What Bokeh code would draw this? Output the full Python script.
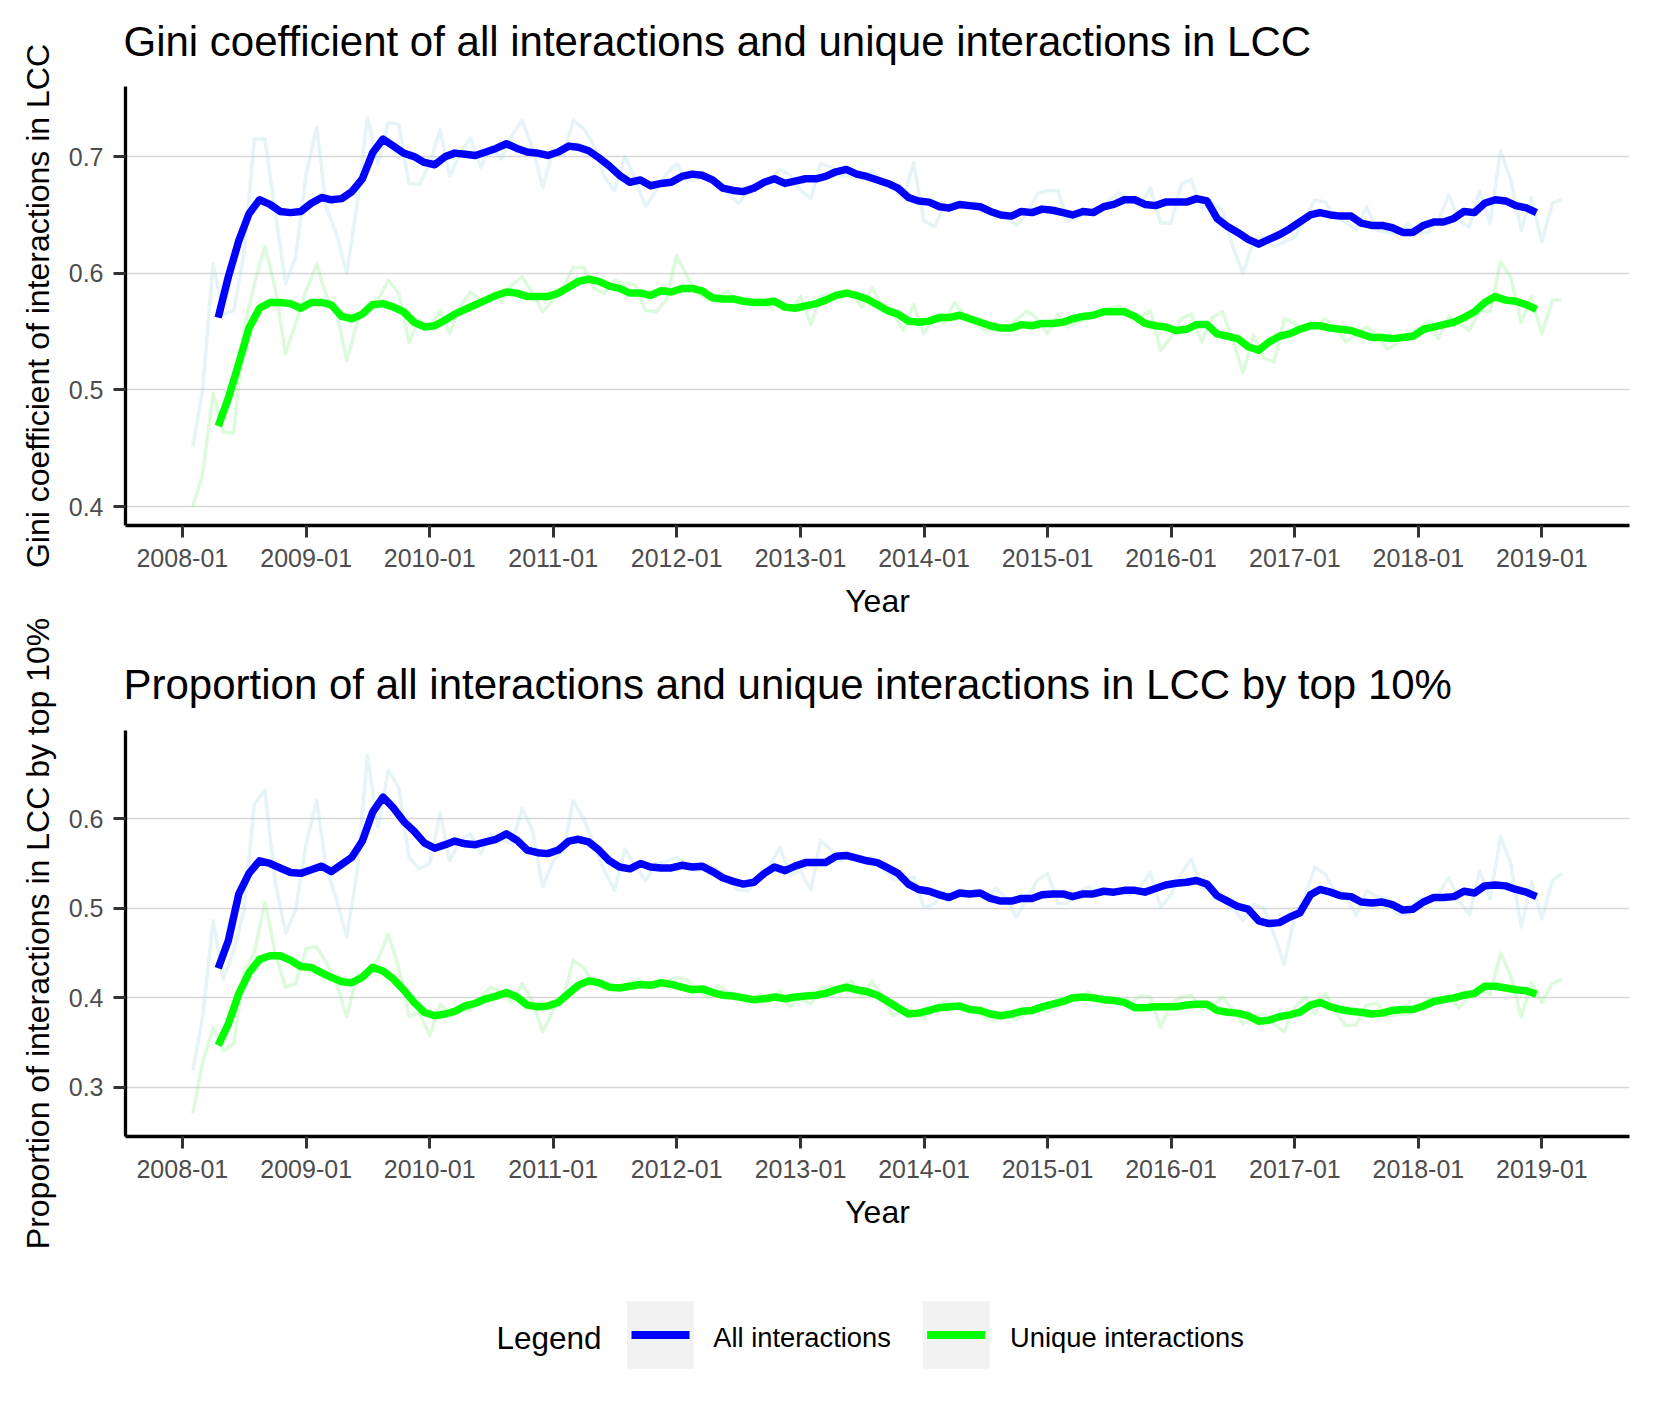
import pandas as pd
from bokeh.plotting import figure
from bokeh.models import Range1d, FixedTicker, DatetimeTickFormatter
from bokeh.layouts import column
from bokeh.embed import file_html
from bokeh.resources import INLINE
from bokeh.core.properties import value

FONT = "Liberation Sans"

# ---------------- data ----------------
tick_labels = ["2008-01", "2009-01", "2010-01", "2011-01", "2012-01", "2013-01",
               "2014-01", "2015-01", "2016-01", "2017-01", "2018-01", "2019-01"]
gini_ticks = [0.4, 0.5, 0.6, 0.7]
top10_ticks = [0.3, 0.4, 0.5, 0.6]

raw_first_month = "2008-02-01"      # monthly raw values start
smooth_first_month = "2008-04-01"   # smoothed values, placed mid-month

gini_all_raw = [
    0.451, 0.500, 0.608, 0.565, 0.568, 0.617, 0.715, 0.715, 0.654, 0.591, 0.614, 0.685,
    0.725, 0.657, 0.633, 0.600, 0.660, 0.734, 0.694, 0.729, 0.728, 0.677, 0.676, 0.694,
    0.723, 0.683, 0.703, 0.716, 0.691, 0.708, 0.698, 0.718, 0.731, 0.708, 0.674, 0.705,
    0.701, 0.731, 0.724, 0.710, 0.683, 0.671, 0.700, 0.681, 0.657, 0.671, 0.685, 0.694,
    0.679, 0.681, 0.681, 0.675, 0.668, 0.660, 0.671, 0.674, 0.681, 0.689, 0.684, 0.671,
    0.664, 0.694, 0.691, 0.683, 0.684, 0.681, 0.688, 0.677, 0.673, 0.664, 0.695, 0.645,
    0.640, 0.657, 0.661, 0.658, 0.660, 0.656, 0.649, 0.648, 0.641, 0.651, 0.668, 0.671,
    0.671, 0.645, 0.648, 0.653, 0.654, 0.662, 0.669, 0.663, 0.657, 0.673, 0.643, 0.643,
    0.677, 0.680, 0.656, 0.660, 0.654, 0.623, 0.600, 0.628, 0.631, 0.623, 0.627, 0.631,
    0.647, 0.663, 0.661, 0.648, 0.644, 0.637, 0.657, 0.637, 0.635, 0.634, 0.643, 0.634,
    0.635, 0.645, 0.667, 0.645, 0.640, 0.671, 0.643, 0.705, 0.680, 0.637, 0.665, 0.627,
    0.660, 0.664]

gini_unique_raw = [
    0.400, 0.428, 0.497, 0.464, 0.463, 0.551, 0.591, 0.623, 0.588, 0.531, 0.557, 0.585,
    0.608, 0.581, 0.568, 0.525, 0.558, 0.574, 0.577, 0.594, 0.583, 0.541, 0.560, 0.553,
    0.568, 0.548, 0.571, 0.584, 0.577, 0.580, 0.576, 0.590, 0.597, 0.583, 0.567, 0.577,
    0.588, 0.605, 0.605, 0.587, 0.583, 0.594, 0.591, 0.590, 0.568, 0.567, 0.577, 0.615,
    0.597, 0.584, 0.577, 0.580, 0.585, 0.575, 0.574, 0.577, 0.571, 0.575, 0.568, 0.580,
    0.556, 0.580, 0.583, 0.583, 0.582, 0.571, 0.587, 0.571, 0.566, 0.551, 0.573, 0.548,
    0.565, 0.557, 0.575, 0.564, 0.557, 0.551, 0.551, 0.554, 0.560, 0.568, 0.561, 0.548,
    0.565, 0.554, 0.558, 0.561, 0.568, 0.570, 0.572, 0.563, 0.563, 0.568, 0.534, 0.545,
    0.561, 0.565, 0.541, 0.562, 0.567, 0.543, 0.515, 0.547, 0.527, 0.524, 0.561, 0.557,
    0.551, 0.553, 0.561, 0.554, 0.541, 0.548, 0.554, 0.547, 0.535, 0.540, 0.549, 0.553,
    0.559, 0.544, 0.563, 0.557, 0.551, 0.568, 0.567, 0.610, 0.597, 0.558, 0.580, 0.548,
    0.577, 0.577]

gini_all_smooth = [
    0.562, 0.597, 0.628, 0.651, 0.663, 0.659, 0.653, 0.652, 0.653, 0.660, 0.665, 0.663,
    0.664, 0.670, 0.681, 0.703, 0.715, 0.709, 0.703, 0.700, 0.695, 0.693, 0.700, 0.703,
    0.702, 0.701, 0.704, 0.707, 0.711, 0.707, 0.704, 0.703, 0.701, 0.704, 0.709, 0.708,
    0.705, 0.699, 0.692, 0.684, 0.678, 0.680, 0.675, 0.677, 0.678, 0.683, 0.685, 0.684,
    0.680, 0.673, 0.671, 0.670, 0.673, 0.678, 0.681, 0.677, 0.679, 0.681, 0.681, 0.683,
    0.687, 0.689, 0.685, 0.683, 0.680, 0.677, 0.673, 0.665, 0.662, 0.661, 0.657, 0.656,
    0.659, 0.658, 0.657, 0.653, 0.650, 0.649, 0.653, 0.652, 0.655, 0.654, 0.652, 0.650,
    0.653, 0.652, 0.657, 0.659, 0.663, 0.663, 0.659, 0.658, 0.661, 0.661, 0.661, 0.664,
    0.662, 0.647, 0.640, 0.635, 0.629, 0.625, 0.629, 0.633, 0.638, 0.644, 0.650, 0.652,
    0.650, 0.649, 0.649, 0.643, 0.641, 0.641, 0.639, 0.635, 0.635, 0.641, 0.644, 0.644,
    0.647, 0.653, 0.652, 0.660, 0.663, 0.662, 0.658, 0.656, 0.652]

gini_unique_smooth = [
    0.469, 0.493, 0.523, 0.553, 0.570, 0.575, 0.575, 0.574, 0.570, 0.575, 0.575, 0.573,
    0.563, 0.561, 0.565, 0.573, 0.574, 0.571, 0.567, 0.558, 0.554, 0.555, 0.560, 0.565,
    0.569, 0.573, 0.577, 0.581, 0.584, 0.583, 0.580, 0.580, 0.580, 0.583, 0.588, 0.593,
    0.595, 0.593, 0.589, 0.587, 0.583, 0.583, 0.581, 0.585, 0.584, 0.587, 0.587, 0.585,
    0.579, 0.578, 0.578, 0.576, 0.575, 0.575, 0.576, 0.571, 0.570, 0.572, 0.574, 0.577,
    0.581, 0.583, 0.581, 0.578, 0.573, 0.568, 0.565, 0.559, 0.558, 0.559, 0.562, 0.562,
    0.564, 0.561, 0.558, 0.555, 0.553, 0.553, 0.556, 0.555, 0.557, 0.557, 0.558, 0.561,
    0.563, 0.564, 0.567, 0.567, 0.567, 0.563, 0.557, 0.555, 0.554, 0.551, 0.552, 0.556,
    0.556, 0.548, 0.546, 0.544, 0.537, 0.534, 0.541, 0.546, 0.548, 0.552, 0.555, 0.555,
    0.553, 0.552, 0.551, 0.548, 0.545, 0.545, 0.544, 0.545, 0.546, 0.552, 0.554, 0.556,
    0.558, 0.562, 0.567, 0.575, 0.580, 0.577, 0.576, 0.573, 0.569]

top10_all_raw = [
    0.319, 0.379, 0.486, 0.421, 0.453, 0.498, 0.616, 0.632, 0.531, 0.472, 0.498, 0.572,
    0.620, 0.546, 0.509, 0.468, 0.542, 0.671, 0.591, 0.654, 0.635, 0.557, 0.544, 0.550,
    0.606, 0.553, 0.576, 0.583, 0.561, 0.583, 0.576, 0.572, 0.611, 0.587, 0.524, 0.553,
    0.565, 0.620, 0.600, 0.572, 0.542, 0.520, 0.566, 0.547, 0.531, 0.550, 0.552, 0.557,
    0.548, 0.542, 0.548, 0.543, 0.533, 0.520, 0.520, 0.535, 0.547, 0.568, 0.537, 0.542,
    0.520, 0.576, 0.565, 0.553, 0.561, 0.553, 0.557, 0.545, 0.533, 0.533, 0.535, 0.501,
    0.505, 0.518, 0.513, 0.514, 0.520, 0.510, 0.522, 0.511, 0.490, 0.511, 0.531, 0.539,
    0.505, 0.506, 0.518, 0.524, 0.516, 0.520, 0.519, 0.515, 0.523, 0.540, 0.501, 0.515,
    0.539, 0.555, 0.522, 0.524, 0.509, 0.501, 0.486, 0.504, 0.501, 0.470, 0.438, 0.492,
    0.514, 0.546, 0.538, 0.518, 0.513, 0.492, 0.520, 0.513, 0.511, 0.493, 0.494, 0.511,
    0.507, 0.516, 0.534, 0.509, 0.493, 0.542, 0.511, 0.580, 0.550, 0.479, 0.530, 0.488,
    0.531, 0.539]

top10_unique_raw = [
    0.271, 0.328, 0.367, 0.341, 0.349, 0.427, 0.451, 0.507, 0.451, 0.412, 0.416, 0.455,
    0.457, 0.440, 0.416, 0.379, 0.426, 0.427, 0.443, 0.471, 0.434, 0.379, 0.384, 0.358,
    0.393, 0.382, 0.387, 0.386, 0.401, 0.412, 0.406, 0.395, 0.416, 0.397, 0.362, 0.386,
    0.401, 0.442, 0.434, 0.416, 0.410, 0.408, 0.415, 0.420, 0.416, 0.414, 0.418, 0.423,
    0.420, 0.409, 0.401, 0.414, 0.406, 0.405, 0.393, 0.404, 0.395, 0.408, 0.390, 0.399,
    0.393, 0.411, 0.412, 0.410, 0.419, 0.401, 0.419, 0.401, 0.380, 0.386, 0.386, 0.377,
    0.390, 0.396, 0.389, 0.386, 0.387, 0.378, 0.375, 0.380, 0.376, 0.383, 0.388, 0.385,
    0.390, 0.399, 0.398, 0.406, 0.401, 0.399, 0.393, 0.393, 0.402, 0.401, 0.367, 0.394,
    0.401, 0.403, 0.387, 0.390, 0.401, 0.387, 0.371, 0.379, 0.382, 0.371, 0.362, 0.390,
    0.401, 0.382, 0.405, 0.384, 0.369, 0.370, 0.392, 0.394, 0.379, 0.382, 0.382, 0.388,
    0.399, 0.396, 0.402, 0.389, 0.402, 0.410, 0.404, 0.450, 0.425, 0.379, 0.417, 0.395,
    0.416, 0.421]

top10_all_smooth = [
    0.433, 0.464, 0.516, 0.539, 0.553, 0.550, 0.545, 0.540, 0.539, 0.543, 0.547, 0.541,
    0.549, 0.557, 0.575, 0.607, 0.624, 0.612, 0.597, 0.586, 0.573, 0.567, 0.571, 0.575,
    0.572, 0.571, 0.574, 0.577, 0.583, 0.576, 0.565, 0.562, 0.561, 0.565, 0.575, 0.577,
    0.574, 0.565, 0.553, 0.546, 0.544, 0.550, 0.546, 0.545, 0.545, 0.548, 0.546, 0.547,
    0.541, 0.534, 0.530, 0.527, 0.529, 0.539, 0.546, 0.542, 0.547, 0.551, 0.551, 0.551,
    0.558, 0.559, 0.556, 0.553, 0.551, 0.545, 0.539, 0.527, 0.521, 0.519, 0.515, 0.512,
    0.517, 0.516, 0.517, 0.511, 0.508, 0.508, 0.511, 0.511, 0.515, 0.516, 0.516, 0.513,
    0.516, 0.516, 0.519, 0.518, 0.520, 0.520, 0.518, 0.522, 0.526, 0.528, 0.529, 0.531,
    0.527, 0.514, 0.508, 0.502, 0.499, 0.486, 0.483, 0.484, 0.490, 0.495, 0.515, 0.521,
    0.518, 0.514, 0.513, 0.507, 0.506, 0.507, 0.504, 0.498, 0.499, 0.507, 0.512, 0.512,
    0.513, 0.519, 0.517, 0.525, 0.526, 0.525, 0.521, 0.518, 0.513]

top10_unique_smooth = [
    0.347, 0.371, 0.405, 0.428, 0.443, 0.447, 0.447, 0.442, 0.435, 0.434, 0.428, 0.423,
    0.418, 0.417, 0.423, 0.434, 0.430, 0.421, 0.409, 0.395, 0.384, 0.380, 0.382, 0.385,
    0.391, 0.394, 0.399, 0.402, 0.406, 0.401, 0.392, 0.390, 0.391, 0.395, 0.405, 0.414,
    0.419, 0.417, 0.412, 0.411, 0.413, 0.415, 0.414, 0.417, 0.415, 0.412, 0.409, 0.410,
    0.406, 0.403, 0.402, 0.400, 0.398, 0.399, 0.401, 0.399, 0.401, 0.402, 0.403, 0.405,
    0.409, 0.412, 0.409, 0.407, 0.403, 0.396, 0.389, 0.382, 0.383, 0.386, 0.389, 0.390,
    0.391, 0.387, 0.386, 0.382, 0.380, 0.382, 0.385, 0.386, 0.390, 0.393, 0.396, 0.400,
    0.401, 0.400, 0.398, 0.397, 0.395, 0.389, 0.389, 0.390, 0.390, 0.390, 0.392, 0.393,
    0.393, 0.386, 0.384, 0.383, 0.380, 0.374, 0.375, 0.379, 0.381, 0.384, 0.392, 0.395,
    0.390, 0.387, 0.385, 0.384, 0.382, 0.383, 0.386, 0.387, 0.387, 0.391, 0.396, 0.398,
    0.400, 0.403, 0.405, 0.413, 0.413, 0.411, 0.409, 0.408, 0.404]

legend_title = "Legend"
legend_labels = ["All interactions", "Unique interactions"]
strong_colors = ["#0000FF", "#00FF00"]
faint_colors = ["lightblue", "lightgreen"]

# ---------------- helpers ----------------
raw_dates = pd.date_range(raw_first_month, periods=len(gini_all_raw), freq="MS")
smooth_dates = pd.date_range(smooth_first_month, periods=len(gini_all_smooth), freq="MS") + pd.Timedelta(days=15)
tick_ms = [pd.Timestamp(t + "-01").timestamp() * 1000.0 for t in tick_labels]

X_START = pd.Timestamp("2007-07-17")
X_END = pd.Timestamp("2019-09-17")
FIG_W = 1638
MB_LEFT = 125
MB_RIGHT = 9


def make_plot(title, ylabel, yrange, yticks, height, mb_top, mb_bottom, title_standoff,
              all_raw, uniq_raw, all_smooth, uniq_smooth):
    p = figure(width=FIG_W, height=height, x_axis_type="datetime",
               x_range=Range1d(X_START, X_END), y_range=Range1d(*yrange),
               output_backend="svg", toolbar_location=None, title=title,
               min_border_left=MB_LEFT, min_border_right=MB_RIGHT,
               min_border_top=mb_top, min_border_bottom=mb_bottom)
    p.outline_line_color = None
    p.background_fill_color = "white"
    p.border_fill_color = "white"
    p.xgrid.visible = False
    p.ygrid.grid_line_color = "#D6D6D6"
    p.ygrid.grid_line_width = 1.3

    p.title.text_font = FONT
    p.title.text_font_size = "42px"
    p.title.text_font_style = "normal"
    p.title.text_color = "black"
    p.title.align = "left"
    p.title.standoff = title_standoff
    p.title.offset = -2

    p.xaxis.ticker = FixedTicker(ticks=tick_ms)
    p.xaxis.formatter = DatetimeTickFormatter(
        years="%Y-%m", months="%Y-%m", days="%Y-%m", hours="%Y-%m",
        minutes="%Y-%m", seconds="%Y-%m", milliseconds="%Y-%m", microseconds="%Y-%m")
    p.yaxis.ticker = FixedTicker(ticks=yticks)

    p.xaxis.axis_label = "Year"
    p.yaxis.axis_label = ylabel
    for ax in (p.xaxis[0], p.yaxis[0]):
        ax.axis_line_color = "black"
        ax.axis_line_width = 3.3
        ax.major_tick_line_color = "#333333"
        ax.major_tick_line_width = 3
        ax.major_tick_out = 12
        ax.major_tick_in = 0
        ax.minor_tick_line_color = None
        ax.major_label_text_font = FONT
        ax.major_label_text_font_size = "25px"
        ax.major_label_text_color = "#4D4D4D"
        ax.axis_label_text_font = FONT
        ax.axis_label_text_font_size = "32px"
        ax.axis_label_text_font_style = "normal"
        ax.axis_label_text_color = "black"
    p.xaxis.major_label_standoff = 11
    p.xaxis.axis_label_standoff = 13
    p.yaxis.major_label_standoff = 10
    p.yaxis.axis_label_standoff = 10

    p.line(raw_dates, all_raw, line_color=faint_colors[0], line_alpha=0.3,
           line_width=3.5, line_join="round")
    p.line(raw_dates, uniq_raw, line_color=faint_colors[1], line_alpha=0.3,
           line_width=3.5, line_join="round")
    p.line(smooth_dates, all_smooth, line_color=strong_colors[0], line_width=7.5,
           line_join="round")
    p.line(smooth_dates, uniq_smooth, line_color=strong_colors[1], line_width=7.5,
           line_join="round")
    return p


# top panel: frame from y=86 to y=525 on the page (panel shifted up so the
# title has room above the frame)
P1_SHIFT = 8
p1 = make_plot("Gini coefficient of all interactions and unique interactions in LCC",
               "Gini coefficient of interactions in LCC",
               (0.3838, 0.7601), gini_ticks, 628 + P1_SHIFT, 86 + P1_SHIFT, 103, 43,
               gini_all_raw, gini_unique_raw, gini_all_smooth, gini_unique_smooth)
p1.margin = (-P1_SHIFT, 0, 0, 0)

# bottom panel starts at y=613 (slight overlap with the empty bottom of the top panel)
P2_TOP = 613
p2 = make_plot("Proportion of all interactions and unique interactions in LCC by top 10%",
               "Proportion of interactions in LCC by top 10%",
               (0.2453, 0.6984), top10_ticks, 645, 117, 122, 45,
               top10_all_raw, top10_unique_raw, top10_all_smooth, top10_unique_smooth)
p2.margin = (P2_TOP - 628, 0, 0, 0)
p2.border_fill_alpha = 0.0

# ---------------- legend (drawn as its own small panel) ----------------
LEG_H = 142
pl = figure(width=FIG_W, height=LEG_H, x_range=Range1d(MB_LEFT, FIG_W - MB_RIGHT),
            y_range=Range1d(0, LEG_H), output_backend="svg", toolbar_location=None,
            min_border_left=MB_LEFT, min_border_right=MB_RIGHT,
            min_border_top=0, min_border_bottom=0,
            x_axis_location=None, y_axis_location=None)
pl.outline_line_color = None
pl.xgrid.visible = False
pl.ygrid.visible = False
pl.border_fill_color = "white"

key_x = [660, 955.6]
label_x = [712.8, 1009.6]
key_y = 65.4
text_y = 63
pl.rect(x=key_x, y=[key_y, key_y], width=67, height=67.5, fill_color="#F2F2F2", line_color=None)
pl.segment(x0=[k - 29 for k in key_x], y0=[key_y, key_y], x1=[k + 29 for k in key_x],
           y1=[key_y, key_y], line_color=strong_colors, line_width=8)
pl.text(x=label_x, y=[text_y, text_y], text=legend_labels, text_font=value(FONT),
        text_font_size=value("27.3px"), text_color="black", text_baseline="alphabetic")
pl.text(x=[496], y=[text_y], text=[legend_title], text_font=value(FONT),
        text_font_size=value("31.5px"), text_color="black", text_baseline="alphabetic")

layout = column(p1, p2, pl)
open("out.html", "w").write(file_html(layout, INLINE))
